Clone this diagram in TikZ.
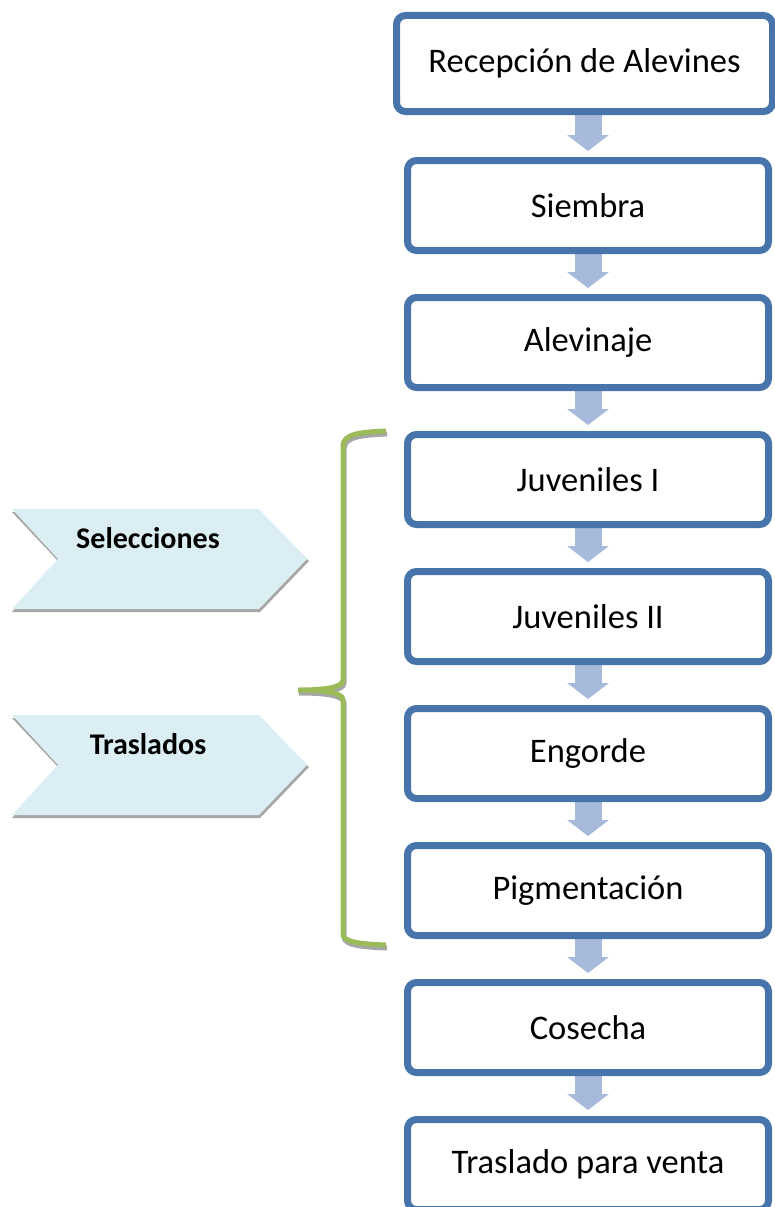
\documentclass[tikz,border=0pt]{standalone}
\usepackage{fontspec}
\setmainfont{Carlito}
\usepackage{tikz}
\usetikzlibrary{arrows.meta,shadows,backgrounds}

\definecolor{bordeazul}{HTML}{4674AB}
\definecolor{flechaazul}{HTML}{A7BADB}
\definecolor{celeste}{HTML}{DAEEF3}
\definecolor{verde}{HTML}{9BBB59}

\tikzset{
  etapa/.style={draw=bordeazul,line width=7pt,rounded corners=9pt,fill=white,
    minimum width=361pt,minimum height=90pt,inner sep=0pt,
    font=\fontsize{34.5}{40}\selectfont,
    drop shadow={shadow xshift=1.5pt,shadow yshift=-3pt,opacity=0.25,fill=black}},
  flecha/.style={flechaazul,line width=27pt,shorten >=6pt,
    -{Triangle[width=41pt,length=16pt]}},
  chevron/.style={fill=celeste},
  sombra/.style={fill=black!35},
  rotulo/.style={font=\bfseries\fontsize{30}{36}\selectfont,inner sep=0pt}
}

\begin{document}
\begin{tikzpicture}[x=1pt,y=-1pt]
\useasboundingbox (0,0) rectangle (775,1207);
% etapas del proceso
\node[etapa,minimum width=376pt,minimum height=96pt] (recepcion) at (584.5,63.5) {Recepción de Alevines};
\node[etapa] (siembra) at (588,205.5) {Siembra};
\node[etapa] (alevinaje) at (588,342.5) {Alevinaje};
\node[etapa] (juvenilesI) at (588,479.5) {Juveniles I};
\node[etapa] (juvenilesII) at (588,616.5) {Juveniles II};
\node[etapa] (engorde) at (588,753.5) {Engorde};
\node[etapa] (pigmentacion) at (588,890.5) {Pigmentación};
\node[etapa] (cosecha) at (588,1027.5) {Cosecha};
\node[etapa] (traslado) at (588,1164.5) {Traslado para venta};
% flechas
\begin{scope}[on background layer]
\draw[flecha] (recepcion.south -| siembra.south) -- (siembra.north);
\draw[flecha] (siembra.south) -- (alevinaje.north);
\draw[flecha] (alevinaje.south) -- (juvenilesI.north);
\draw[flecha] (juvenilesI.south) -- (juvenilesII.north);
\draw[flecha] (juvenilesII.south) -- (engorde.north);
\draw[flecha] (engorde.south) -- (pigmentacion.north);
\draw[flecha] (pigmentacion.south) -- (cosecha.north);
\draw[flecha] (cosecha.south) -- (traslado.north);
\end{scope}
% llave
\draw[black!35,line width=5pt,xshift=1pt,yshift=-3pt] (386,431) .. controls (360,432) and (343,434) .. (343,446) -- (343,680) .. controls (343,688) and (322,690) .. (298,690) .. controls (322,690) and (343,692) .. (343,700) -- (343,934) .. controls (343,942) and (360,944) .. (386,945);
\draw[verde,line width=5pt] (386,431) .. controls (360,432) and (343,434) .. (343,446) -- (343,680) .. controls (343,688) and (322,690) .. (298,690) .. controls (322,690) and (343,692) .. (343,700) -- (343,934) .. controls (343,942) and (360,944) .. (386,945);
% cheurones
\fill[sombra] (12,512) -- (58,561) -- (12,612) -- (260,612) -- (309,561) -- (260,512) -- cycle;
\fill[chevron] (12,509) -- (58,559) -- (12,609) -- (259,609) -- (307,559) -- (259,509) -- cycle;
\node[rotulo] (selecciones) at (148,538) {Selecciones};
\fill[sombra] (12,718) -- (58,767) -- (12,818) -- (260,818) -- (309,767) -- (260,718) -- cycle;
\fill[chevron] (12,715) -- (58,765) -- (12,815) -- (259,815) -- (307,765) -- (259,715) -- cycle;
\node[rotulo] (traslados) at (148,744) {Traslados};
\end{tikzpicture}
\end{document}
